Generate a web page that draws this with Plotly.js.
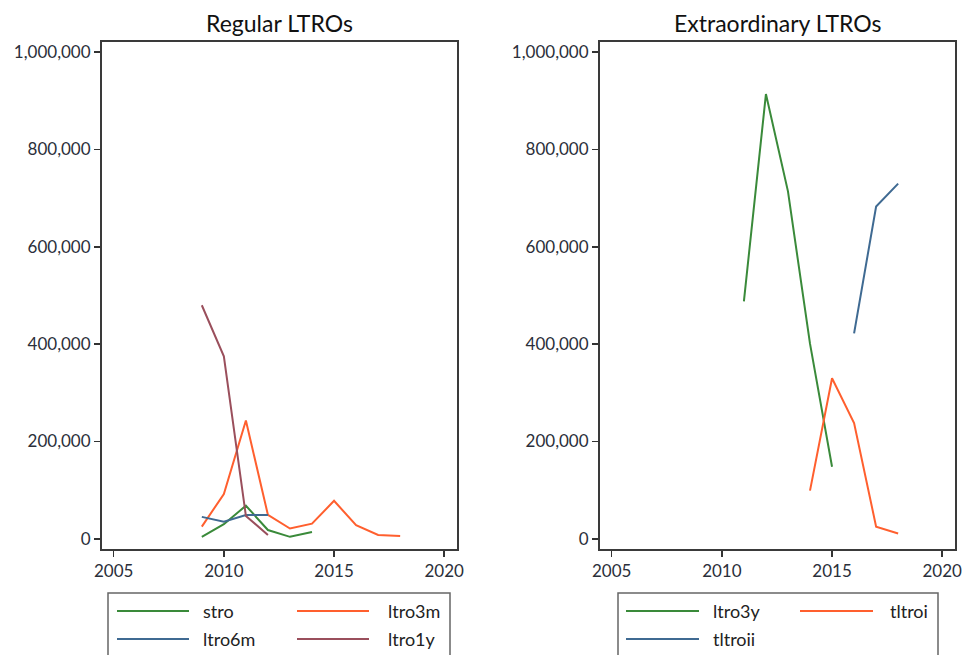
<!DOCTYPE html>
<html>
<head>
<meta charset="utf-8">
<script src="https://cdn.plot.ly/plotly-3.0.1.min.js"></script>
<style>html,body{margin:0;padding:0;background:#fff;}#chart{width:965px;height:655px;}</style>
</head>
<body>
<div id="chart"></div>
<script>
// Regular LTROs
const yearsStro = [2009, 2010, 2011, 2012, 2013, 2014];
const stro = [4000, 30000, 68000, 18000, 4000, 14000];
const yearsLtro3m = [2009, 2010, 2011, 2012, 2013, 2014, 2015, 2016, 2017, 2018];
const ltro3m = [25000, 92000, 243000, 49000, 21000, 31000, 78000, 28000, 8000, 5500];
const yearsLtro6m = [2009, 2010, 2011, 2012];
const ltro6m = [45000, 35000, 49000, 49000];
const yearsLtro1y = [2009, 2010, 2011, 2012];
const ltro1y = [480000, 375000, 47000, 8000];
// Extraordinary LTROs
const yearsLtro3y = [2011, 2012, 2013, 2014, 2015];
const ltro3y = [488000, 914000, 714000, 401000, 148000];
const yearsTltroi = [2014, 2015, 2016, 2017, 2018];
const tltroi = [99000, 330000, 238000, 25000, 11000];
const yearsTltroii = [2016, 2017, 2018];
const tltroii = [422000, 683000, 730000];
const xTicks = [2005, 2010, 2015, 2020];
const yTicks = [0, 200000, 400000, 600000, 800000, 1000000];
const yTickText = ['0', '200,000', '400,000', '600,000', '800,000', '1,000,000'];
const titles = ['Regular LTROs', 'Extraordinary LTROs'];

const GREEN = '#3a8a3a', ORANGE = '#ff5f2e', BLUE = '#3f6a92', MAROON = '#9a4f5c';
const FONT = 'Lato, "Open Sans", sans-serif';
function tr(x, y, name, color, xa, ya) {
  return {x: x, y: y, name: name, type: 'scatter', mode: 'lines',
    line: {color: color, width: 2}, xaxis: xa, yaxis: ya};
}
const series = [
  {x: yearsStro, y: stro, name: 'stro', color: GREEN, p: 0},
  {x: yearsLtro3m, y: ltro3m, name: 'ltro3m', color: ORANGE, p: 0},
  {x: yearsLtro6m, y: ltro6m, name: 'ltro6m', color: BLUE, p: 0},
  {x: yearsLtro1y, y: ltro1y, name: 'ltro1y', color: MAROON, p: 0},
  {x: yearsLtro3y, y: ltro3y, name: 'ltro3y', color: GREEN, p: 1},
  {x: yearsTltroi, y: tltroi, name: 'tltroi', color: ORANGE, p: 1},
  {x: yearsTltroii, y: tltroii, name: 'tltroii', color: BLUE, p: 1}
];
const data = series.map(s => tr(s.x, s.y, s.name, s.color, s.p ? 'x2' : 'x', s.p ? 'y2' : 'y'));

const W = 965, H = 655;
const tickFont = {family: FONT, size: 17, color: '#2b2f3a'};
function xax(l, r) {
  return {domain: [l / W, r / W], range: [2004.47, 2020.58], tickvals: xTicks,
    ticks: 'outside', ticklen: 6, tickwidth: 1.5, tickcolor: '#333',
    showline: true, linecolor: '#3a3a3a', linewidth: 2, mirror: true,
    showgrid: false, zeroline: false, tickfont: tickFont, fixedrange: true};
}
function yax(anchor) {
  return {domain: [1 - 549 / H, 1 - 42 / H], range: [-21000, 1021000],
    tickvals: yTicks, ticktext: yTickText, anchor: anchor,
    ticks: 'outside', ticklen: 6, tickwidth: 1.5, tickcolor: '#333',
    showline: true, linecolor: '#3a3a3a', linewidth: 2, mirror: true,
    showgrid: false, zeroline: false, tickfont: tickFont, fixedrange: true};
}

// Manual legends (two boxes, two columns each)
const shapes = [];
const annotations = [];
const legendBoxes = [
  {x0: 108, x1: 450, cols: [{l0: 117, l1: 189, t: 201}, {l0: 297, l1: 369, t: 386}]},
  {x0: 618, x1: 938, cols: [{l0: 626, l1: 699, t: 711}, {l0: 800, l1: 873, t: 888}]}
];
const rowsY = [611, 639];
legendBoxes.forEach((b, bi) => {
  shapes.push({type: 'rect', xref: 'paper', yref: 'paper', x0: b.x0 / W, x1: b.x1 / W,
    y0: 1 - 593 / H, y1: -0.05, line: {color: '#666', width: 1.5}, fillcolor: 'rgba(0,0,0,0)'});
  const items = series.filter(s => s.p === bi);
  items.forEach((s, i) => {
    const c = b.cols[i % 2], yy = 1 - rowsY[Math.floor(i / 2)] / H;
    shapes.push({type: 'line', xref: 'paper', yref: 'paper', x0: c.l0 / W, x1: c.l1 / W,
      y0: yy, y1: yy, line: {color: s.color, width: 2}});
    annotations.push({text: s.name, xref: 'paper', yref: 'paper', x: c.t / W, y: yy,
      xanchor: 'left', yanchor: 'middle', showarrow: false,
      font: {family: FONT, size: 18, color: '#222'}});
  });
});
annotations.push(
  {text: titles[0], x: 279.5 / W, y: 1 - 23 / H, xref: 'paper', yref: 'paper',
    xanchor: 'center', yanchor: 'middle', showarrow: false,
    font: {family: FONT, size: 23, color: '#111'}},
  {text: titles[1], x: 777.5 / W, y: 1 - 23 / H, xref: 'paper', yref: 'paper',
    xanchor: 'center', yanchor: 'middle', showarrow: false,
    font: {family: FONT, size: 23, color: '#111'}}
);

const layout = {
  width: W, height: H,
  margin: {l: 0, r: 0, t: 0, b: 0},
  paper_bgcolor: '#fff', plot_bgcolor: '#fff',
  showlegend: false,
  xaxis: Object.assign(xax(102, 457), {anchor: 'y'}),
  yaxis: yax('x'),
  xaxis2: Object.assign(xax(600, 955), {anchor: 'y2'}),
  yaxis2: yax('x2'),
  shapes: shapes,
  annotations: annotations
};
Plotly.newPlot('chart', data, layout, {displayModeBar: false, staticPlot: true});
</script>
</body>
</html>
